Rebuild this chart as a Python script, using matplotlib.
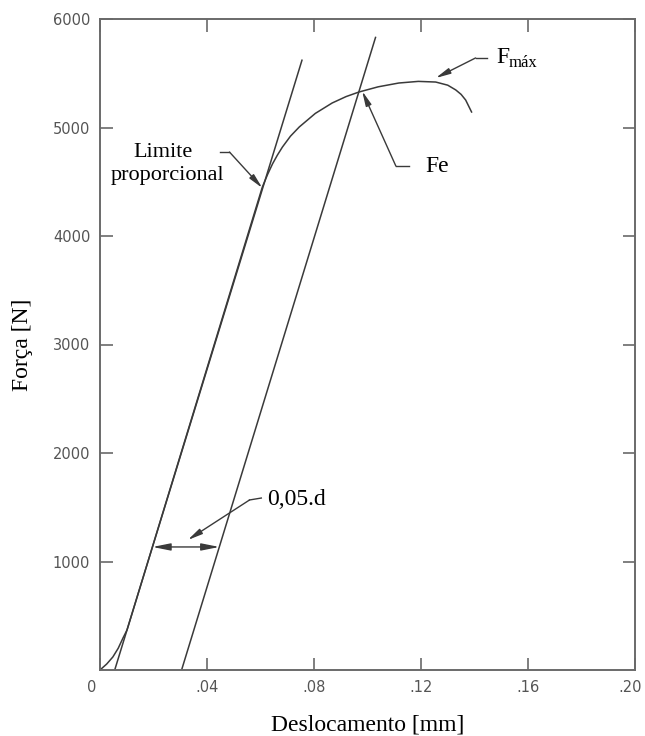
import numpy as np
import matplotlib
matplotlib.use("Agg")
import matplotlib.pyplot as plt
from matplotlib.transforms import ScaledTranslation

# ---- data ----
disp_mm = [0.0, 0.0025, 0.0048, 0.0068, 0.0086, 0.0101, 0.0607, 0.0627, 0.0645,
           0.0663, 0.0682, 0.0712, 0.0745, 0.0805, 0.0868, 0.0920, 0.0968, 0.1040,
           0.1117, 0.1190, 0.1255, 0.1300, 0.1330, 0.1350, 0.1367, 0.1389]
force_n = [0, 55, 120, 200, 295, 369, 4452, 4570, 4665,
           4745, 4820, 4920, 5005, 5130, 5226, 5285, 5327, 5375,
           5410, 5425, 5419, 5390, 5346, 5305, 5253, 5143]

# elastic (proportional) line and 0,05.d offset parallel line
line1_disp = [0.0055, 0.0755]
line1_force = [0, 5620]
line2_disp = [0.0305, 0.1030]
line2_force = [0, 5830]
dim_force = 1134  # force level of the 0,05.d dimension

x_ticks = [0, 0.04, 0.08, 0.12, 0.16, 0.20]
x_ticklabels = ["0", ".04", ".08", ".12", ".16", ".20"]
y_ticks = [1000, 2000, 3000, 4000, 5000, 6000]
y_ticklabels = ["1000", "2000", "3000", "4000", "5000", "6000"]

# ---- figure ----
fig = plt.figure(figsize=(6.45, 7.36), dpi=100)
ax = fig.add_axes([100/645, 1-670/736, 535/645, 651/736])
ax.set_xlim(0, 0.20)
ax.set_ylim(0, 6000)

lc = "#3a3a3a"
ax.plot(disp_mm, force_n, color=lc, lw=1.1)
ax.plot(line1_disp, line1_force, color=lc, lw=1.1)
ax.plot(line2_disp, line2_force, color=lc, lw=1.1)

# dimension line 0,05.d
xd1 = np.interp(dim_force, line1_force, line1_disp)
xd2 = np.interp(dim_force, line2_force, line2_disp)
ax.annotate("", xy=(xd1, dim_force), xytext=(xd2, dim_force),
            arrowprops=dict(arrowstyle="<|-|>,head_length=0.9,head_width=0.18",
                            mutation_scale=12, color=lc, lw=1.0,
                            shrinkA=0, shrinkB=0))

serif = "Liberation Serif"
arrow_kw = dict(arrowstyle="-|>,head_length=0.8,head_width=0.16", mutation_scale=11,
                color=lc, lw=1.0, shrinkA=0, shrinkB=0)

# Limite proporcional
ax.plot([0.0447, 0.0484], [4774, 4774], color=lc, lw=1.0)
ax.annotate("", xy=(0.0607, 4442), xytext=(0.0484, 4774), arrowprops=arrow_kw)
ax.text(0.0235, 4765, "Limite", family=serif, fontsize=16, ha="center", va="center")
ax.text(0.0253, 4562, "proporcional", family=serif, fontsize=16, ha="center", va="center")

# Fe
ax.plot([0.1106, 0.1155], [4645, 4645], color=lc, lw=1.0)
ax.annotate("", xy=(0.0980, 5336), xytext=(0.1106, 4645), arrowprops=arrow_kw)
ax.text(0.1259, 4636, "Fe", family=serif, fontsize=17, ha="center", va="center")

# Fmax
ax.plot([0.1404, 0.1445], [5641, 5641], color=lc, lw=1.0)
ax.annotate("", xy=(0.1255, 5456), xytext=(0.1404, 5641), arrowprops=arrow_kw)
ax.text(0.1480, 5641, "F", family=serif, fontsize=17, ha="left", va="center")
ax.text(0.1527, 5590, "máx", family=serif, fontsize=12, ha="left", va="center")

# 0,05.d
ax.plot([0.0559, 0.0603], [1567, 1585], color=lc, lw=1.0)
ax.annotate("", xy=(0.0328, 1198), xytext=(0.0559, 1567), arrowprops=arrow_kw)
ax.text(0.0626, 1575, "0,05.d", family=serif, fontsize=17, ha="left", va="center")

# axes styling
for s in ax.spines.values():
    s.set_color("#6a6a6a")
    s.set_linewidth(1.4)
ax.set_xticks(x_ticks)
ax.set_xticklabels(x_ticklabels)
ax.set_yticks(y_ticks)
ax.set_yticklabels(y_ticklabels)
ax.tick_params(direction="in", length=9, width=1.2, color="#6a6a6a",
               labelcolor="#555555", labelsize=10.5, top=True, right=True, pad=7)
xl = ax.get_xticklabels()
xl[0].set_transform(xl[0].get_transform() + ScaledTranslation(-8/100, 0, fig.dpi_scale_trans))
xl[-1].set_transform(xl[-1].get_transform() + ScaledTranslation(-5/100, 0, fig.dpi_scale_trans))
ax.set_xlabel("Deslocamento [mm]", family=serif, fontsize=17, labelpad=14)
ax.set_ylabel("Força [N]", family=serif, fontsize=17, labelpad=14)

fig.savefig("out.png", dpi=100)
